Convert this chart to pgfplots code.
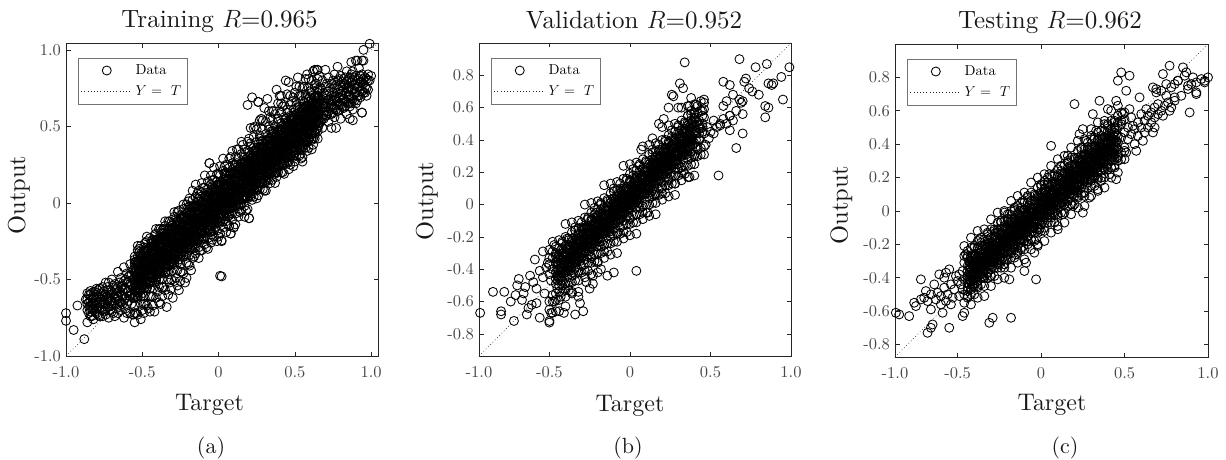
\documentclass[border=0pt]{standalone}
\usepackage{fix-cm}
\usepackage{fontspec}
\setmainfont{lmroman10-regular.otf}[ItalicFont=lmroman10-italic.otf, BoldFont=lmroman10-bold.otf]
\usepackage{pgfplots}
\usepackage{pgfplotstable}
\pgfplotsset{compat=1.18}

% ---------------- Training (a) ----------------
\pgfplotstableread{
x a b c d e f g h
-0.86 -0.63 -0.78 -0.70 -0.66 -0.59 nan nan nan
-0.84 -0.60 -0.74 -0.67 -0.71 -0.64 nan nan nan
-0.82 -0.58 -0.76 -0.66 -0.62 -0.70 nan nan nan
-0.80 -0.72 -0.60 -0.65 -0.56 -0.69 nan nan nan
-0.78 -0.56 -0.74 -0.69 -0.62 -0.65 nan nan nan
-0.76 -0.70 -0.61 -0.55 -0.66 -0.74 nan nan nan
-0.74 -0.52 -0.73 -0.66 -0.60 -0.69 nan nan nan
-0.72 -0.68 -0.57 -0.75 -0.63 -0.52 nan nan nan
-0.70 -0.50 -0.64 -0.71 -0.58 -0.67 nan nan nan
-0.68 -0.62 -0.74 -0.53 -0.57 -0.66 nan nan nan
-0.66 -0.45 -0.66 -0.72 -0.55 -0.61 nan nan nan
-0.64 -0.60 -0.49 -0.70 -0.55 -0.65 nan nan nan
-0.62 -0.75 -0.56 -0.42 -0.51 -0.63 nan nan nan
-0.60 -0.66 -0.46 -0.58 -0.72 -0.52 nan nan nan
-0.58 -0.40 -0.72 -0.53 -0.47 -0.61 nan nan nan
-0.56 -0.62 -0.50 -0.73 -0.44 -0.56 nan nan nan
-0.54 -0.50 -0.44 -0.55 -0.38 -0.61 -0.47 -0.72 nan
-0.52 -0.44 -0.50 -0.39 -0.56 -0.32 -0.48 nan -0.30
-0.50 -0.49 -0.44 -0.39 -0.59 -0.35 -0.52 -0.70 nan
-0.48 -0.43 -0.48 -0.39 -0.31 -0.53 -0.36 -0.66 -0.26
-0.46 -0.42 -0.36 -0.47 -0.30 -0.53 -0.39 -0.69 nan
-0.44 -0.37 -0.43 -0.32 -0.49 -0.25 -0.41 -0.61 nan
-0.42 -0.42 -0.37 -0.32 -0.52 -0.28 -0.45 -0.71 -0.21
-0.40 -0.36 -0.41 -0.32 -0.24 -0.46 -0.29 -0.58 nan
-0.38 -0.35 -0.29 -0.40 -0.23 -0.46 -0.32 -0.66 -0.17
-0.36 -0.29 -0.35 -0.24 -0.41 -0.17 -0.33 -0.55 nan
-0.34 -0.35 -0.30 -0.25 -0.45 -0.21 -0.38 -0.68 nan
-0.32 -0.29 -0.34 -0.25 -0.17 -0.39 -0.22 -0.52 -0.12
-0.30 -0.28 -0.22 -0.33 -0.16 -0.39 -0.25 -0.62 nan
-0.28 -0.22 -0.28 -0.17 -0.34 -0.10 -0.26 -0.49 nan
-0.26 -0.27 -0.22 -0.17 -0.37 -0.13 -0.30 -0.57 -0.05
-0.24 -0.22 -0.27 -0.18 -0.10 -0.32 -0.15 -0.45 nan
-0.22 -0.21 -0.15 -0.26 -0.09 -0.32 -0.18 -0.52 nan
-0.20 -0.15 -0.21 -0.10 -0.27 -0.03 -0.19 -0.40 0.01
-0.18 -0.20 -0.15 -0.10 -0.30 -0.06 -0.23 -0.44 nan
-0.16 -0.14 -0.19 -0.10 -0.02 -0.24 -0.07 -0.35 nan
-0.14 -0.14 -0.08 -0.19 -0.02 -0.25 -0.11 nan 0.06
-0.12 -0.08 -0.14 -0.03 -0.20 0.04 -0.12 -0.31 nan
-0.10 -0.13 -0.08 -0.03 -0.23 0.01 -0.16 nan 0.10
-0.08 -0.07 -0.12 -0.03 0.05 -0.17 0.00 -0.29 nan
-0.06 -0.06 0.00 -0.11 0.06 -0.17 -0.03 0.26 nan
-0.04 -0.01 -0.07 0.04 -0.13 0.11 -0.05 -0.24 0.15
-0.02 -0.06 -0.01 0.04 -0.16 0.08 -0.09 nan nan
0.00 0.00 -0.05 0.04 0.12 -0.10 0.07 -0.22 0.19
0.02 0.01 0.07 -0.04 0.13 -0.10 0.04 -0.48 -0.25
0.04 0.07 0.01 0.12 -0.05 0.19 0.03 nan 0.24
0.06 0.01 0.06 0.11 -0.09 0.15 -0.02 -0.14 nan
0.08 0.07 0.02 0.11 0.19 -0.03 0.14 -0.20 0.30
0.10 0.08 0.14 0.03 0.20 -0.03 0.11 -0.16 nan
0.12 0.14 0.08 0.19 0.02 0.26 0.10 nan 0.35
0.14 0.09 0.14 0.19 -0.01 0.23 0.06 -0.06 nan
0.16 0.14 0.09 0.18 0.26 0.04 0.21 nan 0.38
0.18 0.15 0.21 0.10 0.27 0.04 0.18 -0.05 nan
0.20 0.21 0.15 0.26 0.09 0.33 0.17 -0.10 0.42
0.22 0.16 0.21 0.26 0.06 0.30 0.13 0.69 0.02
0.24 0.22 0.17 0.26 0.34 0.12 0.29 0.50 nan
0.26 0.22 0.28 0.17 0.34 0.11 0.25 0.66 0.05
0.28 0.28 0.22 0.33 0.16 0.40 0.24 0.55 nan
0.30 0.23 0.28 0.33 0.13 0.37 0.20 0.62 0.08
0.32 0.29 0.24 0.33 0.41 0.19 0.36 0.68 nan
0.34 0.30 0.36 0.25 0.42 0.19 0.33 0.56 0.13
0.36 0.35 0.29 0.40 0.23 0.47 0.31 0.60 nan
0.38 0.30 0.35 0.40 0.20 0.44 0.27 0.74 0.17
0.40 0.36 0.31 0.40 0.48 0.26 0.43 0.70 nan
0.42 0.37 0.43 0.32 0.49 0.26 0.40 0.63 0.20
0.44 0.43 0.37 0.48 0.31 0.55 0.39 0.80 nan
0.46 0.37 0.42 0.47 0.27 0.51 0.34 0.79 0.22
0.48 0.43 0.38 0.47 0.55 0.33 0.50 0.66 nan
0.50 0.44 0.50 0.39 0.56 0.33 0.47 0.72 0.27
0.52 0.50 0.44 0.55 0.38 0.62 0.46 0.82 nan
0.54 0.45 0.50 0.55 0.35 0.59 0.42 0.70 0.29
0.56 0.50 0.45 0.54 0.62 0.40 0.57 0.76 nan
0.58 0.51 0.57 0.46 0.63 0.40 0.54 0.84 0.34
0.60 0.57 0.51 0.62 0.45 0.69 0.53 0.73 nan
0.62 0.52 0.57 0.62 0.42 0.66 0.49 0.86 0.38
0.64 0.58 0.53 0.62 0.70 0.48 0.65 0.78 nan
0.66 0.66 0.52 0.74 0.58 0.83 nan nan nan
0.68 0.55 0.70 0.62 0.80 0.49 nan nan nan
0.70 0.68 0.57 0.76 0.63 0.87 nan nan nan
0.72 0.60 0.73 0.53 0.82 0.67 nan nan nan
0.74 0.70 0.58 0.78 0.64 0.49 nan nan nan
0.76 0.62 0.75 0.84 0.69 0.56 nan nan nan
0.78 0.72 0.60 0.80 0.66 0.89 nan nan nan
0.80 0.64 0.77 0.55 0.71 0.83 nan nan nan
0.82 0.74 0.62 0.81 0.68 0.78 nan nan nan
0.84 0.66 0.79 0.58 0.75 0.86 nan nan nan
0.86 0.76 0.63 0.82 0.70 0.55 nan nan nan
0.88 0.68 0.80 0.74 0.86 0.61 nan nan nan
0.90 0.78 0.65 0.83 0.72 0.93 nan nan nan
0.92 0.70 0.81 0.76 0.88 nan nan nan nan
0.94 0.79 0.59 0.84 0.73 0.93 nan nan nan
0.96 0.82 0.72 0.76 nan nan nan nan nan
0.98 0.80 0.84 0.74 nan nan nan nan nan
}\tabA

\pgfplotstableread{
x a b c d e f g
-0.85 -0.65 -0.72 -0.60 -0.68 nan nan nan
-0.83 -0.62 -0.69 -0.74 -0.66 nan nan nan
-0.81 -0.64 -0.58 -0.71 -0.67 nan nan nan
-0.79 -0.61 -0.68 -0.57 -0.73 nan nan nan
-0.77 -0.63 -0.70 -0.59 -0.66 nan nan nan
-0.75 -0.58 -0.65 -0.71 -0.62 nan nan nan
-0.73 -0.61 -0.55 -0.68 -0.64 nan nan nan
-0.71 -0.57 -0.64 -0.70 -0.60 nan nan nan
-0.69 -0.60 -0.54 -0.66 -0.72 nan nan nan
-0.67 -0.56 -0.63 -0.69 -0.59 nan nan nan
-0.65 -0.58 -0.52 -0.64 -0.68 nan nan nan
-0.63 -0.54 -0.61 -0.66 -0.57 nan nan nan
-0.61 -0.56 -0.50 -0.62 -0.69 nan nan nan
-0.59 -0.52 -0.58 -0.64 -0.48 nan nan nan
-0.57 -0.54 -0.47 -0.60 -0.66 nan nan nan
-0.55 -0.49 -0.53 -0.45 -0.57 -0.41 -0.60 -0.37
-0.53 -0.50 -0.46 -0.53 -0.41 -0.56 -0.38 -0.61
-0.51 -0.46 -0.42 -0.50 -0.38 -0.57 -0.34 -0.48
-0.49 -0.43 -0.47 -0.39 -0.51 -0.35 -0.54 -0.31
-0.47 -0.44 -0.40 -0.47 -0.35 -0.50 -0.32 -0.55
-0.45 -0.41 -0.37 -0.45 -0.33 -0.52 -0.29 -0.43
-0.43 -0.38 -0.42 -0.34 -0.46 -0.30 -0.49 -0.26
-0.41 -0.39 -0.35 -0.42 -0.30 -0.45 -0.27 -0.50
-0.39 -0.35 -0.31 -0.39 -0.27 -0.46 -0.23 -0.37
-0.37 -0.32 -0.36 -0.28 -0.40 -0.24 -0.43 -0.20
-0.35 -0.34 -0.30 -0.37 -0.25 -0.40 -0.22 -0.45
-0.33 -0.30 -0.26 -0.34 -0.22 -0.41 -0.18 -0.32
-0.31 -0.27 -0.31 -0.23 -0.35 -0.19 -0.38 -0.15
-0.29 -0.28 -0.24 -0.31 -0.19 -0.34 -0.16 -0.39
-0.27 -0.24 -0.20 -0.28 -0.16 -0.35 -0.12 -0.26
-0.25 -0.22 -0.26 -0.18 -0.30 -0.14 -0.33 -0.10
-0.23 -0.23 -0.19 -0.26 -0.14 -0.29 -0.11 -0.34
-0.21 -0.19 -0.15 -0.23 -0.11 -0.30 -0.07 -0.21
-0.19 -0.16 -0.20 -0.12 -0.24 -0.08 -0.27 -0.04
-0.17 -0.17 -0.13 -0.20 -0.08 -0.23 -0.05 -0.28
-0.15 -0.14 -0.10 -0.18 -0.06 -0.25 -0.02 -0.16
-0.13 -0.11 -0.15 -0.07 -0.19 -0.03 -0.22 0.01
-0.11 -0.12 -0.08 -0.15 -0.03 -0.18 0.00 -0.23
-0.09 -0.08 -0.04 -0.12 0.00 -0.19 0.04 -0.10
-0.07 -0.05 -0.09 -0.01 -0.13 0.03 -0.16 0.07
-0.05 -0.07 -0.03 -0.10 0.02 -0.13 0.05 -0.18
-0.03 -0.03 0.01 -0.07 0.05 -0.14 0.09 -0.05
-0.01 0.00 -0.04 0.04 -0.08 0.08 -0.11 0.12
0.01 -0.01 0.03 -0.04 0.08 -0.07 0.11 -0.12
0.03 0.03 0.07 -0.01 0.11 -0.08 0.15 0.01
0.05 0.06 0.02 0.10 -0.02 0.14 -0.05 0.18
0.07 0.04 0.08 0.01 0.13 -0.02 0.16 -0.07
0.09 0.08 0.12 0.04 0.16 -0.03 0.20 0.06
0.11 0.11 0.07 0.15 0.03 0.19 0.00 0.23
0.13 0.10 0.14 0.07 0.19 0.04 0.22 -0.01
0.15 0.14 0.18 0.10 0.22 0.03 0.26 0.12
0.17 0.16 0.12 0.20 0.08 0.24 0.05 0.28
0.19 0.15 0.19 0.12 0.24 0.09 0.27 0.04
0.21 0.19 0.23 0.15 0.27 0.08 0.31 0.17
0.23 0.22 0.18 0.26 0.14 0.30 0.11 0.34
0.25 0.21 0.25 0.18 0.30 0.15 0.33 0.10
0.27 0.24 0.28 0.20 0.32 0.13 0.36 0.22
0.29 0.27 0.23 0.31 0.19 0.35 0.16 0.39
0.31 0.26 0.30 0.23 0.35 0.20 0.38 0.15
0.33 0.30 0.34 0.26 0.38 0.19 0.42 0.28
0.35 0.33 0.29 0.37 0.25 0.41 0.22 0.45
0.37 0.31 0.35 0.28 0.40 0.25 0.43 0.20
0.39 0.35 0.39 0.31 0.43 0.24 0.47 0.33
0.41 0.38 0.34 0.42 0.30 0.46 0.27 0.50
0.43 0.37 0.41 0.34 0.46 0.31 0.49 0.26
0.45 0.41 0.45 0.37 0.49 0.30 0.53 0.39
0.47 0.43 0.39 0.47 0.35 0.51 0.32 0.55
0.49 0.42 0.46 0.39 0.51 0.36 0.54 0.31
0.51 0.46 0.50 0.42 0.54 0.35 0.58 0.44
0.53 0.49 0.45 0.53 0.41 0.57 0.38 0.61
0.55 0.48 0.52 0.45 0.57 0.42 0.60 0.37
0.57 0.51 0.55 0.47 0.59 0.40 0.63 0.49
0.59 0.54 0.50 0.58 0.46 0.62 0.43 0.66
0.61 0.53 0.57 0.50 0.62 0.47 0.65 0.42
0.63 0.57 0.61 0.53 0.65 0.46 0.69 0.55
0.65 0.60 0.56 0.64 0.52 0.68 0.49 0.72
0.67 0.62 0.56 0.68 0.53 0.75 nan nan
0.69 0.59 0.65 0.55 0.72 0.63 nan nan
0.71 0.65 0.60 0.70 0.57 0.78 nan nan
0.73 0.62 0.68 0.58 0.75 0.66 nan nan
0.75 0.67 0.62 0.72 0.59 0.80 nan nan
0.77 0.64 0.70 0.61 0.77 0.68 nan nan
0.79 0.69 0.64 0.74 0.61 0.81 nan nan
0.81 0.67 0.73 0.63 0.79 0.70 nan nan
0.83 0.72 0.66 0.77 0.63 0.82 nan nan
0.85 0.69 0.75 0.65 0.80 0.73 nan nan
0.87 0.74 0.68 0.79 0.65 0.84 nan nan
0.89 0.71 0.77 0.67 0.82 0.75 nan nan
0.91 0.76 0.70 0.80 0.67 nan nan nan
0.93 0.73 0.79 0.69 0.83 nan nan nan
0.95 0.78 0.72 0.81 nan nan nan nan
0.97 0.75 0.81 0.70 nan nan nan nan
}\tabAA

\pgfplotstableread{
x a b c d e f g
-0.545 -0.485 -0.505 -0.455 -0.535 -0.425 -0.575 -0.385
-0.525 -0.477 -0.457 -0.507 -0.427 -0.537 -0.387 -0.587
-0.505 -0.429 -0.479 -0.399 -0.509 -0.359 -0.549 -0.454
-0.485 -0.446 -0.426 -0.496 -0.376 -0.556 -0.316 -0.406
-0.465 -0.413 -0.433 -0.383 -0.463 -0.353 -0.503 -0.313
-0.445 -0.405 -0.385 -0.435 -0.355 -0.465 -0.315 -0.515
-0.425 -0.357 -0.407 -0.327 -0.437 -0.287 -0.477 -0.382
-0.405 -0.374 -0.354 -0.424 -0.304 -0.484 -0.244 -0.334
-0.385 -0.341 -0.361 -0.311 -0.391 -0.281 -0.431 -0.241
-0.365 -0.333 -0.313 -0.363 -0.283 -0.393 -0.243 -0.443
-0.345 -0.285 -0.335 -0.255 -0.365 -0.215 -0.405 -0.310
-0.325 -0.302 -0.282 -0.352 -0.232 -0.412 -0.172 -0.262
-0.305 -0.269 -0.289 -0.239 -0.319 -0.209 -0.359 -0.169
-0.285 -0.261 -0.241 -0.291 -0.211 -0.321 -0.171 -0.371
-0.265 -0.213 -0.263 -0.183 -0.293 -0.143 -0.333 -0.238
-0.245 -0.230 -0.210 -0.280 -0.160 -0.340 -0.100 -0.190
-0.225 -0.197 -0.217 -0.167 -0.247 -0.137 -0.287 -0.097
-0.205 -0.189 -0.169 -0.219 -0.139 -0.249 -0.099 -0.299
-0.185 -0.141 -0.191 -0.111 -0.221 -0.071 -0.261 -0.166
-0.165 -0.158 -0.138 -0.208 -0.088 -0.268 -0.028 -0.118
-0.145 -0.125 -0.145 -0.095 -0.175 -0.065 -0.215 -0.025
-0.125 -0.117 -0.097 -0.147 -0.067 -0.177 -0.027 -0.227
-0.105 -0.069 -0.119 -0.039 -0.149 0.001 -0.189 -0.094
-0.085 -0.086 -0.066 -0.136 -0.016 -0.196 0.044 -0.046
-0.065 -0.053 -0.073 -0.023 -0.103 0.007 -0.143 0.047
-0.045 -0.045 -0.025 -0.075 0.005 -0.105 0.045 -0.155
-0.025 0.003 -0.047 0.033 -0.077 0.073 -0.117 -0.022
-0.005 -0.014 0.006 -0.064 0.056 -0.124 0.116 0.026
0.015 0.019 -0.001 0.049 -0.031 0.079 -0.071 0.119
0.035 0.027 0.047 -0.003 0.077 -0.033 0.117 -0.083
0.055 0.075 0.025 0.105 -0.005 0.145 -0.045 0.050
0.075 0.058 0.078 0.008 0.128 -0.052 0.188 0.098
0.095 0.091 0.071 0.121 0.041 0.151 0.001 0.191
0.115 0.099 0.119 0.069 0.149 0.039 0.189 -0.011
0.135 0.147 0.097 0.177 0.067 0.217 0.027 0.122
0.155 0.130 0.150 0.080 0.200 0.020 0.260 0.170
0.175 0.163 0.143 0.193 0.113 0.223 0.073 0.263
0.195 0.171 0.191 0.141 0.221 0.111 0.261 0.061
0.215 0.219 0.169 0.249 0.139 0.289 0.099 0.194
0.235 0.202 0.222 0.152 0.272 0.092 0.332 0.242
0.255 0.235 0.215 0.265 0.185 0.295 0.145 0.335
0.275 0.243 0.263 0.213 0.293 0.183 0.333 0.133
0.295 0.291 0.241 0.321 0.211 0.361 0.171 0.266
0.315 0.274 0.294 0.224 0.344 0.164 0.404 0.314
0.335 0.307 0.287 0.337 0.257 0.367 0.217 0.407
0.355 0.315 0.335 0.285 0.365 0.255 0.405 0.205
0.375 0.363 0.313 0.393 0.283 0.433 0.243 0.338
0.395 0.346 0.366 0.296 0.416 0.236 0.476 0.386
0.415 0.379 0.359 0.409 0.329 0.439 0.289 0.479
0.435 0.387 0.407 0.357 0.437 0.327 0.477 0.277
0.455 0.435 0.385 0.465 0.355 0.505 0.315 0.410
0.475 0.418 0.438 0.368 0.488 0.308 0.548 0.458
0.495 0.451 0.431 0.481 0.401 0.511 0.361 0.551
0.515 0.459 0.479 0.429 0.509 0.399 0.549 0.349
0.535 0.507 0.457 0.537 0.427 0.577 0.387 0.482
0.555 0.490 0.510 0.440 0.560 0.380 0.620 0.530
0.575 0.523 0.503 0.553 0.473 0.583 0.433 0.623
0.595 0.531 0.551 0.501 0.581 0.471 0.621 0.421
0.615 0.579 0.529 0.609 0.499 0.649 0.459 0.554
0.635 0.562 0.582 0.512 0.632 0.452 0.692 0.602
0.655 0.595 0.575 0.625 0.545 0.655 0.505 0.695
}\tabAAA

\pgfplotstableread{
x a b c d e f
-0.55 -0.39 -0.62 -0.35 -0.67 -0.72 -0.78
-0.53 -0.58 -0.35 -0.62 -0.31 -0.73 -0.28
-0.51 -0.34 -0.57 -0.28 -0.61 -0.76 -0.66
-0.49 -0.33 -0.56 -0.29 -0.61 -0.66 -0.72
-0.47 -0.52 -0.29 -0.56 -0.25 -0.67 -0.22
-0.45 -0.29 -0.52 -0.23 -0.56 -0.71 -0.61
-0.43 -0.28 -0.51 -0.24 -0.56 -0.61 -0.67
-0.41 -0.47 -0.24 -0.51 -0.20 -0.62 -0.17
-0.39 -0.23 -0.46 -0.17 -0.50 -0.65 -0.55
-0.37 -0.22 -0.45 -0.18 -0.50 -0.55 -0.61
-0.35 -0.42 -0.19 -0.46 -0.15 -0.57 -0.12
-0.33 -0.18 -0.41 -0.12 -0.45 -0.60 -0.50
-0.31 -0.17 -0.40 -0.13 -0.45 -0.50 -0.56
-0.29 -0.36 -0.13 -0.40 -0.09 -0.51 -0.06
-0.27 -0.12 -0.35 -0.06 -0.39 -0.54 -0.44
-0.25 -0.12 -0.35 -0.08 -0.40 -0.45 -0.51
-0.23 -0.31 -0.08 -0.35 -0.04 -0.46 -0.01
-0.21 -0.07 -0.30 -0.01 -0.34 -0.49 -0.39
-0.19 -0.06 -0.29 -0.02 -0.34 0.03 -0.41
-0.17 -0.25 -0.02 -0.29 0.02 -0.36 0.08
-0.15 -0.02 -0.25 0.04 -0.29 0.12 -0.33
-0.13 -0.01 -0.24 0.03 -0.29 0.08 -0.36
-0.11 -0.20 0.03 -0.24 0.07 -0.31 0.13
-0.09 0.04 -0.19 0.10 -0.23 0.18 -0.27
-0.07 0.05 -0.18 0.09 -0.23 0.14 -0.30
-0.05 -0.15 0.08 -0.19 0.12 -0.26 0.18
-0.03 0.09 -0.14 0.15 -0.18 0.23 -0.22
-0.01 0.10 -0.13 0.14 -0.18 0.19 -0.25
0.01 -0.09 0.14 -0.13 0.18 -0.20 0.24
0.03 0.15 -0.08 0.21 -0.12 0.29 -0.16
0.05 0.16 -0.07 0.20 -0.12 0.25 -0.19
0.07 -0.04 0.19 -0.08 0.23 -0.15 0.29
0.09 0.20 -0.03 0.26 -0.07 0.34 -0.11
0.11 0.21 -0.02 0.25 -0.07 0.30 -0.14
0.13 0.02 0.25 -0.02 0.29 -0.09 0.35
0.15 0.26 0.03 0.32 -0.01 0.40 -0.05
0.17 0.26 0.03 0.30 -0.02 0.35 -0.09
0.19 0.07 0.30 0.03 0.34 -0.04 0.40
0.21 0.31 0.08 0.37 0.04 0.49 0.39
0.23 0.32 0.09 0.36 0.04 0.43 0.49
0.25 0.13 0.36 0.09 0.40 0.48 0.03
0.27 0.36 0.13 0.42 0.09 0.54 0.44
0.29 0.37 0.14 0.41 0.09 0.48 0.54
0.31 0.18 0.41 0.14 0.45 0.53 0.08
0.33 0.42 0.19 0.48 0.15 0.60 0.50
0.35 0.43 0.20 0.47 0.15 0.54 0.60
0.37 0.23 0.46 0.19 0.50 0.58 0.13
0.39 0.47 0.24 0.53 0.20 0.65 0.55
0.41 0.48 0.25 0.52 0.20 0.59 0.65
0.43 0.29 0.52 0.25 0.56 0.64 0.19
0.45 0.53 0.30 0.59 0.26 0.71 0.61
0.47 0.53 0.30 0.57 0.25 0.64 0.70
0.49 0.34 0.57 0.30 0.61 0.69 0.24
0.51 0.58 0.35 0.64 0.31 0.76 0.66
0.53 0.59 0.36 0.63 0.31 0.70 0.76
0.55 0.40 0.63 0.36 0.67 0.75 0.30
0.57 0.63 0.40 0.69 0.36 0.81 0.71
0.59 0.64 0.41 0.68 0.36 0.75 0.81
0.61 0.45 0.68 0.41 0.72 0.80 0.35
0.63 0.69 0.46 0.75 0.42 0.87 0.77
0.65 0.70 0.47 0.74 0.42 0.81 0.87
}\tabAH

% ---------------- Validation (b) ----------------
\pgfplotstableread{
x a b c d e f g
-0.46 -0.42 -0.36 -0.49 -0.30 -0.46 nan nan
-0.44 -0.37 -0.45 -0.31 -0.50 -0.41 nan nan
-0.42 -0.41 -0.34 -0.47 -0.30 -0.24 nan nan
-0.40 -0.35 -0.42 -0.31 -0.49 -0.26 nan nan
-0.38 -0.34 -0.28 -0.41 -0.22 -0.38 nan nan
-0.36 -0.29 -0.37 -0.23 -0.42 -0.33 -0.34 -0.29
-0.34 -0.33 -0.26 -0.39 -0.22 -0.16 -0.32 -0.27
-0.32 -0.27 -0.34 -0.23 -0.41 -0.18 -0.30 -0.25
-0.30 -0.26 -0.20 -0.33 -0.14 -0.30 -0.28 -0.23
-0.28 -0.21 -0.29 -0.15 -0.34 -0.25 -0.26 -0.21
-0.26 -0.25 -0.18 -0.31 -0.14 -0.08 -0.24 -0.19
-0.24 -0.19 -0.26 -0.15 -0.33 -0.10 -0.22 -0.17
-0.22 -0.18 -0.12 -0.25 -0.06 -0.22 -0.20 -0.15
-0.20 -0.13 -0.21 -0.07 -0.26 -0.17 -0.18 -0.13
-0.18 -0.17 -0.10 -0.23 -0.06 0.00 -0.16 -0.11
-0.16 -0.11 -0.18 -0.07 -0.25 -0.02 -0.14 -0.09
-0.14 -0.10 -0.04 -0.17 0.02 -0.14 -0.12 -0.07
-0.12 -0.05 -0.13 0.01 -0.18 -0.09 -0.10 -0.05
-0.10 -0.09 -0.02 -0.15 0.02 0.08 -0.08 -0.03
-0.08 -0.03 -0.10 0.01 -0.17 0.06 -0.06 -0.01
-0.06 -0.02 0.04 -0.09 0.10 -0.06 -0.04 0.01
-0.04 0.03 -0.05 0.09 -0.10 -0.01 -0.02 0.03
-0.02 -0.01 0.06 -0.07 0.10 0.16 0.00 0.05
0.00 0.05 -0.02 0.09 -0.09 0.14 0.02 0.07
0.02 0.06 0.12 -0.01 0.18 0.02 0.04 0.09
0.04 0.11 0.03 0.17 -0.02 0.07 0.06 0.11
0.06 0.07 0.14 0.01 0.18 0.24 0.08 0.13
0.08 0.13 0.06 0.17 -0.01 0.22 0.10 0.15
0.10 0.14 0.20 0.07 0.26 0.10 0.12 0.17
0.12 0.19 0.11 0.25 0.06 0.15 0.14 0.19
0.14 0.15 0.22 0.09 0.26 0.32 0.16 0.21
0.16 0.21 0.14 0.25 0.07 0.30 0.18 0.23
0.18 0.22 0.28 0.15 0.34 0.18 0.20 0.25
0.20 0.27 0.19 0.33 0.14 0.23 0.22 0.27
0.22 0.23 0.30 0.17 0.34 0.40 0.24 0.29
0.24 0.29 0.22 0.33 0.15 0.38 0.26 0.31
0.26 0.30 0.36 0.23 0.42 0.26 0.28 0.33
0.28 0.35 0.27 0.41 0.22 0.31 0.30 0.35
0.30 0.31 0.38 0.25 0.42 0.48 0.32 0.37
0.32 0.37 0.30 0.41 0.23 0.46 0.34 0.39
0.34 0.38 0.44 0.31 0.50 0.34 0.36 0.41
0.36 0.43 0.35 0.49 0.30 0.39 nan nan
0.38 0.39 0.46 0.33 0.50 0.56 nan nan
0.40 0.45 0.38 0.49 0.31 0.54 nan nan
}\tabB

\pgfplotstableread{
x a b c d e
-0.45 -0.40 -0.44 -0.36 -0.47 -0.33
-0.43 -0.41 -0.36 -0.44 -0.33 -0.47
-0.41 -0.37 -0.33 -0.41 -0.30 -0.38
-0.39 -0.34 -0.38 -0.30 -0.41 -0.27
-0.37 -0.35 -0.30 -0.38 -0.27 -0.41
-0.35 -0.31 -0.27 -0.35 -0.24 -0.32
-0.33 -0.28 -0.32 -0.24 -0.35 -0.21
-0.31 -0.29 -0.24 -0.32 -0.21 -0.35
-0.29 -0.25 -0.21 -0.29 -0.18 -0.26
-0.27 -0.22 -0.26 -0.18 -0.29 -0.15
-0.25 -0.23 -0.18 -0.26 -0.15 -0.29
-0.23 -0.19 -0.15 -0.23 -0.12 -0.20
-0.21 -0.16 -0.20 -0.12 -0.23 -0.09
-0.19 -0.17 -0.12 -0.20 -0.09 -0.23
-0.17 -0.13 -0.09 -0.17 -0.06 -0.14
-0.15 -0.10 -0.14 -0.06 -0.17 -0.03
-0.13 -0.11 -0.06 -0.14 -0.03 -0.17
-0.11 -0.07 -0.03 -0.11 0.00 -0.08
-0.09 -0.04 -0.08 0.00 -0.11 0.03
-0.07 -0.05 0.00 -0.08 0.03 -0.11
-0.05 -0.01 0.03 -0.05 0.06 -0.02
-0.03 0.02 -0.02 0.06 -0.05 0.09
-0.01 0.01 0.06 -0.02 0.09 -0.05
0.01 0.05 0.09 0.01 0.12 0.04
0.03 0.08 0.04 0.12 0.01 0.15
0.05 0.07 0.12 0.04 0.15 0.01
0.07 0.11 0.15 0.07 0.18 0.10
0.09 0.14 0.10 0.18 0.07 0.21
0.11 0.13 0.18 0.10 0.21 0.07
0.13 0.17 0.21 0.13 0.24 0.16
0.15 0.20 0.16 0.24 0.13 0.27
0.17 0.19 0.24 0.16 0.27 0.13
0.19 0.23 0.27 0.19 0.30 0.22
0.21 0.26 0.22 0.30 0.19 0.33
0.23 0.25 0.30 0.22 0.33 0.19
0.25 0.29 0.33 0.25 0.36 0.28
0.27 0.32 0.28 0.36 0.25 0.39
0.29 0.31 0.36 0.28 0.39 0.25
0.31 0.35 0.39 0.31 0.42 0.34
0.33 0.38 0.34 0.42 0.31 0.45
0.35 0.37 0.42 0.34 0.45 0.31
0.37 0.41 0.45 0.37 0.48 0.40
0.39 0.44 0.40 0.48 0.37 0.51
0.41 0.46 0.40 0.51 0.36 0.44
0.43 0.47 0.52 0.41 0.49 0.44
0.45 0.50 0.45 0.55 0.48 nan
}\tabBB

\pgfplotstableread{
x a b c d e
-0.445 -0.400 -0.430 -0.370 -0.450 -0.340
-0.425 -0.390 -0.360 -0.420 -0.340 -0.450
-0.405 -0.350 -0.380 -0.310 -0.420 -0.365
-0.385 -0.340 -0.370 -0.310 -0.390 -0.280
-0.365 -0.330 -0.300 -0.360 -0.280 -0.390
-0.345 -0.290 -0.320 -0.250 -0.360 -0.305
-0.325 -0.280 -0.310 -0.250 -0.330 -0.220
-0.305 -0.270 -0.240 -0.300 -0.220 -0.330
-0.285 -0.230 -0.260 -0.190 -0.300 -0.245
-0.265 -0.220 -0.250 -0.190 -0.270 -0.160
-0.245 -0.210 -0.180 -0.240 -0.160 -0.270
-0.225 -0.170 -0.200 -0.130 -0.240 -0.185
-0.205 -0.160 -0.190 -0.130 -0.210 -0.100
-0.185 -0.150 -0.120 -0.180 -0.100 -0.210
-0.165 -0.110 -0.140 -0.070 -0.180 -0.125
-0.145 -0.100 -0.130 -0.070 -0.150 -0.040
-0.125 -0.090 -0.060 -0.120 -0.040 -0.150
-0.105 -0.050 -0.080 -0.010 -0.120 -0.065
-0.085 -0.040 -0.070 -0.010 -0.090 0.020
-0.065 -0.030 0.000 -0.060 0.020 -0.090
-0.045 0.010 -0.020 0.050 -0.060 -0.005
-0.025 0.020 -0.010 0.050 -0.030 0.080
-0.005 0.030 0.060 0.000 0.080 -0.030
0.015 0.070 0.040 0.110 0.000 0.055
0.035 0.080 0.050 0.110 0.030 0.140
0.055 0.090 0.120 0.060 0.140 0.030
0.075 0.130 0.100 0.170 0.060 0.115
0.095 0.140 0.110 0.170 0.090 0.200
0.115 0.150 0.180 0.120 0.200 0.090
0.135 0.190 0.160 0.230 0.120 0.175
0.155 0.200 0.170 0.230 0.150 0.260
0.175 0.210 0.240 0.180 0.260 0.150
0.195 0.250 0.220 0.290 0.180 0.235
0.215 0.260 0.230 0.290 0.210 0.320
0.235 0.270 0.300 0.240 0.320 0.210
0.255 0.310 0.280 0.350 0.240 0.295
0.275 0.320 0.290 0.350 0.270 0.380
0.295 0.330 0.360 0.300 0.380 0.270
0.315 0.370 0.340 0.410 0.300 0.355
0.335 0.380 0.350 0.410 0.330 0.440
0.355 0.390 0.420 0.360 0.440 0.330
0.375 0.430 0.400 0.470 0.360 0.415
}\tabBBB

\pgfplotstableread{
x a b c d e f
-0.50 -0.37 -0.60 -0.33 -0.65 -0.28 -0.72
-0.48 -0.56 -0.33 -0.60 -0.29 -0.67 -0.23
-0.46 -0.32 -0.55 -0.26 -0.59 nan nan
-0.44 -0.31 -0.54 -0.27 -0.59 -0.22 -0.66
-0.42 -0.50 -0.27 -0.54 -0.23 nan nan
-0.40 -0.26 -0.49 -0.20 -0.53 -0.12 -0.57
-0.38 -0.25 -0.48 -0.21 -0.53 nan nan
-0.36 -0.44 -0.21 -0.48 -0.17 -0.55 -0.11
-0.34 -0.20 -0.43 -0.14 -0.47 nan nan
-0.32 -0.19 -0.42 -0.15 -0.47 -0.10 -0.54
-0.30 -0.38 -0.15 -0.42 -0.11 nan nan
-0.28 -0.14 -0.37 -0.08 -0.41 0.00 -0.45
-0.26 -0.13 -0.36 -0.09 -0.41 nan nan
-0.24 -0.32 -0.09 -0.36 -0.05 -0.43 0.01
-0.22 -0.08 -0.31 -0.02 -0.35 nan nan
-0.20 -0.07 -0.30 -0.03 -0.35 0.02 -0.42
-0.18 -0.26 -0.03 -0.30 0.01 nan nan
-0.16 -0.02 -0.25 0.04 -0.29 0.12 -0.33
-0.14 -0.01 -0.24 0.03 -0.29 nan nan
-0.12 -0.20 0.03 -0.24 0.07 -0.31 0.13
-0.10 0.04 -0.19 0.10 -0.23 nan nan
-0.08 0.05 -0.18 0.09 -0.23 0.14 -0.30
-0.06 -0.14 0.09 -0.18 0.13 nan nan
-0.04 0.10 -0.13 0.16 -0.17 0.24 -0.21
-0.02 0.11 -0.12 0.15 -0.17 nan nan
0.00 -0.08 0.15 -0.12 0.19 -0.19 0.25
0.02 0.16 -0.07 0.22 -0.11 nan nan
0.04 0.17 -0.06 0.21 -0.11 0.26 -0.18
0.06 -0.02 0.21 -0.06 0.25 nan nan
0.08 0.22 -0.01 0.28 -0.05 0.36 -0.09
0.10 0.23 0.00 0.27 -0.05 nan nan
0.12 0.04 0.27 0.00 0.31 -0.07 0.37
0.14 0.28 0.05 0.34 0.01 nan nan
0.16 0.29 0.06 0.33 0.01 0.38 -0.06
0.18 0.10 0.33 0.06 0.37 nan nan
0.20 0.34 0.11 0.40 0.07 0.48 0.03
0.22 0.35 0.12 0.39 0.07 nan nan
0.24 0.16 0.39 0.12 0.43 0.05 0.49
0.26 0.40 0.17 0.46 0.13 nan nan
0.28 0.41 0.18 0.45 0.13 0.50 0.06
0.30 0.22 0.45 0.18 0.49 nan nan
0.32 0.46 0.23 0.52 0.19 0.60 0.15
0.34 0.47 0.24 0.51 0.19 nan nan
0.36 0.28 0.51 0.24 0.55 0.17 0.61
0.38 0.52 0.29 0.58 0.25 nan nan
0.40 0.53 0.30 0.57 0.25 0.62 0.18
0.42 0.34 0.57 0.30 0.61 nan nan
0.44 0.58 0.35 0.64 0.31 nan nan
0.46 0.59 0.36 0.63 0.31 nan nan
}\tabBH

% ---------------- Testing (c) ----------------
\pgfplotstableread{
x a b c d e f g
-0.44 -0.39 -0.33 -0.46 -0.27 -0.43 -0.41 -0.36
-0.42 -0.34 -0.42 -0.28 -0.47 -0.38 -0.39 -0.34
-0.40 -0.38 -0.31 -0.44 -0.27 -0.21 -0.37 -0.32
-0.38 -0.32 -0.39 -0.28 -0.46 -0.23 -0.35 -0.30
-0.36 -0.31 -0.25 -0.38 -0.19 -0.35 -0.33 -0.28
-0.34 -0.27 -0.35 -0.21 -0.40 -0.31 -0.32 -0.27
-0.32 -0.31 -0.24 -0.37 -0.20 -0.14 -0.30 -0.25
-0.30 -0.25 -0.32 -0.21 -0.39 -0.16 -0.28 -0.23
-0.28 -0.24 -0.18 -0.31 -0.12 -0.28 -0.26 -0.21
-0.26 -0.19 -0.27 -0.13 -0.32 -0.23 -0.24 -0.19
-0.24 -0.24 -0.17 -0.30 -0.13 -0.07 -0.23 -0.18
-0.22 -0.18 -0.25 -0.14 -0.32 -0.09 -0.21 -0.16
-0.20 -0.17 -0.11 -0.24 -0.05 -0.21 -0.19 -0.14
-0.18 -0.12 -0.20 -0.06 -0.25 -0.16 -0.17 -0.12
-0.16 -0.16 -0.09 -0.22 -0.05 0.01 -0.15 -0.10
-0.14 -0.11 -0.18 -0.07 -0.25 -0.02 -0.14 -0.09
-0.12 -0.10 -0.04 -0.17 0.02 -0.14 -0.12 -0.07
-0.10 -0.05 -0.13 0.01 -0.18 -0.09 -0.10 -0.05
-0.08 -0.09 -0.02 -0.15 0.02 0.08 -0.08 -0.03
-0.06 -0.03 -0.10 0.01 -0.17 0.06 -0.06 -0.01
-0.04 -0.03 0.03 -0.10 0.09 -0.07 -0.05 0.00
-0.02 0.02 -0.06 0.08 -0.11 -0.02 -0.03 0.02
0.00 -0.02 0.05 -0.08 0.09 0.15 -0.01 0.04
0.02 0.04 -0.03 0.08 -0.10 0.13 0.01 0.06
0.04 0.05 0.11 -0.02 0.17 0.01 0.03 0.08
0.06 0.09 0.01 0.15 -0.04 0.05 0.04 0.09
0.08 0.05 0.12 -0.01 0.16 0.22 0.06 0.11
0.10 0.11 0.04 0.15 -0.03 0.20 0.08 0.13
0.12 0.12 0.18 0.05 0.24 0.08 0.10 0.15
0.14 0.17 0.09 0.23 0.04 0.13 0.12 0.17
0.16 0.12 0.19 0.06 0.23 0.29 0.13 0.18
0.18 0.18 0.11 0.22 0.04 0.27 0.15 0.20
0.20 0.19 0.25 0.12 0.31 0.15 0.17 0.22
0.22 0.24 0.16 0.30 0.11 0.20 0.19 0.24
0.24 0.20 0.27 0.14 0.31 0.37 0.21 0.26
0.26 0.25 0.18 0.29 0.11 0.34 0.22 0.27
0.28 0.26 0.32 0.19 0.38 0.22 0.24 0.29
0.30 0.31 0.23 0.37 0.18 0.27 0.26 0.31
0.32 0.27 0.34 0.21 0.38 0.44 0.28 0.33
0.34 0.33 0.26 0.37 0.19 0.42 0.30 0.35
0.36 0.33 0.39 0.26 0.45 0.29 0.31 0.36
0.38 0.38 0.30 0.44 0.25 0.34 0.33 0.38
0.40 0.34 0.41 0.28 0.45 0.51 0.35 0.40
0.42 0.40 0.33 0.44 0.26 0.49 0.37 0.42
0.44 0.41 0.47 0.34 0.53 0.37 nan nan
0.46 0.45 0.37 0.51 0.32 0.41 nan nan
}\tabC

\pgfplotstableread{
x a b c d e
-0.43 -0.37 -0.41 -0.33 -0.44 -0.30
-0.41 -0.38 -0.33 -0.41 -0.30 -0.44
-0.39 -0.34 -0.30 -0.38 -0.27 -0.35
-0.37 -0.31 -0.35 -0.27 -0.38 -0.24
-0.35 -0.33 -0.28 -0.36 -0.25 -0.39
-0.33 -0.29 -0.25 -0.33 -0.22 -0.30
-0.31 -0.26 -0.30 -0.22 -0.33 -0.19
-0.29 -0.27 -0.22 -0.30 -0.19 -0.33
-0.27 -0.23 -0.19 -0.27 -0.16 -0.24
-0.25 -0.21 -0.25 -0.17 -0.28 -0.14
-0.23 -0.22 -0.17 -0.25 -0.14 -0.28
-0.21 -0.18 -0.14 -0.22 -0.11 -0.19
-0.19 -0.15 -0.19 -0.11 -0.22 -0.08
-0.17 -0.16 -0.11 -0.19 -0.08 -0.22
-0.15 -0.13 -0.09 -0.17 -0.06 -0.14
-0.13 -0.10 -0.14 -0.06 -0.17 -0.03
-0.11 -0.11 -0.06 -0.14 -0.03 -0.17
-0.09 -0.07 -0.03 -0.11 0.00 -0.08
-0.07 -0.04 -0.08 0.00 -0.11 0.03
-0.05 -0.06 -0.01 -0.09 0.02 -0.12
-0.03 -0.02 0.02 -0.06 0.05 -0.03
-0.01 0.01 -0.03 0.05 -0.06 0.08
0.01 0.00 0.05 -0.03 0.08 -0.06
0.03 0.04 0.08 0.00 0.11 0.03
0.05 0.07 0.03 0.11 0.00 0.14
0.07 0.05 0.10 0.02 0.13 -0.01
0.09 0.09 0.13 0.05 0.16 0.08
0.11 0.12 0.08 0.16 0.05 0.19
0.13 0.11 0.16 0.08 0.19 0.05
0.15 0.15 0.19 0.11 0.22 0.14
0.17 0.17 0.13 0.21 0.10 0.24
0.19 0.16 0.21 0.13 0.24 0.10
0.21 0.20 0.24 0.16 0.27 0.19
0.23 0.23 0.19 0.27 0.16 0.30
0.25 0.22 0.27 0.19 0.30 0.16
0.27 0.25 0.29 0.21 0.32 0.24
0.29 0.28 0.24 0.32 0.21 0.35
0.31 0.27 0.32 0.24 0.35 0.21
0.33 0.31 0.35 0.27 0.38 0.30
0.35 0.34 0.30 0.38 0.27 0.41
0.37 0.32 0.37 0.29 0.40 0.26
0.39 0.36 0.40 0.32 0.43 0.35
0.41 0.39 0.35 0.43 0.32 0.46
0.43 0.38 0.43 0.35 0.46 0.32
0.45 0.42 0.46 0.38 0.49 0.41
}\tabCC

\pgfplotstableread{
x a b c d e
-0.425 -0.367 -0.397 -0.337 -0.417 -0.307
-0.405 -0.359 -0.329 -0.389 -0.309 -0.419
-0.385 -0.321 -0.351 -0.281 -0.391 -0.336
-0.365 -0.313 -0.343 -0.283 -0.363 -0.253
-0.345 -0.305 -0.275 -0.335 -0.255 -0.365
-0.325 -0.267 -0.297 -0.227 -0.337 -0.282
-0.305 -0.259 -0.289 -0.229 -0.309 -0.199
-0.285 -0.251 -0.221 -0.281 -0.201 -0.311
-0.265 -0.213 -0.243 -0.173 -0.283 -0.228
-0.245 -0.205 -0.235 -0.175 -0.255 -0.145
-0.225 -0.197 -0.167 -0.227 -0.147 -0.257
-0.205 -0.159 -0.189 -0.119 -0.229 -0.174
-0.185 -0.151 -0.181 -0.121 -0.201 -0.091
-0.165 -0.143 -0.113 -0.173 -0.093 -0.203
-0.145 -0.105 -0.135 -0.065 -0.175 -0.120
-0.125 -0.097 -0.127 -0.067 -0.147 -0.037
-0.105 -0.089 -0.059 -0.119 -0.039 -0.149
-0.085 -0.051 -0.081 -0.011 -0.121 -0.066
-0.065 -0.043 -0.073 -0.013 -0.093 0.017
-0.045 -0.035 -0.005 -0.065 0.015 -0.095
-0.025 0.003 -0.027 0.043 -0.067 -0.012
-0.005 0.011 -0.019 0.041 -0.039 0.071
0.015 0.019 0.049 -0.011 0.069 -0.041
0.035 0.057 0.027 0.097 -0.013 0.042
0.055 0.065 0.035 0.095 0.015 0.125
0.075 0.073 0.103 0.043 0.123 0.013
0.095 0.111 0.081 0.151 0.041 0.096
0.115 0.119 0.089 0.149 0.069 0.179
0.135 0.127 0.157 0.097 0.177 0.067
0.155 0.165 0.135 0.205 0.095 0.150
0.175 0.173 0.143 0.203 0.123 0.233
0.195 0.181 0.211 0.151 0.231 0.121
0.215 0.219 0.189 0.259 0.149 0.204
0.235 0.227 0.197 0.257 0.177 0.287
0.255 0.235 0.265 0.205 0.285 0.175
0.275 0.273 0.243 0.313 0.203 0.258
0.295 0.281 0.251 0.311 0.231 0.341
0.315 0.289 0.319 0.259 0.339 0.229
0.335 0.327 0.297 0.367 0.257 0.312
0.355 0.335 0.305 0.365 0.285 0.395
0.375 0.343 0.373 0.313 0.393 0.283
0.395 0.381 0.351 0.421 0.311 0.366
0.415 0.389 0.359 0.419 0.339 0.449
0.435 0.397 0.427 0.367 0.447 0.337
}\tabCCC

\pgfplotstableread{
x a b c d e f
-0.46 -0.31 -0.50 -0.27 -0.55 -0.21 -0.61
-0.44 -0.48 -0.28 -0.51 -0.24 nan nan
-0.42 -0.27 -0.46 -0.22 -0.50 -0.16 -0.56
-0.40 -0.26 -0.45 -0.22 -0.50 nan nan
-0.38 -0.42 -0.22 -0.45 -0.18 -0.52 -0.12
-0.36 -0.21 -0.40 -0.16 -0.44 nan nan
-0.34 -0.21 -0.40 -0.17 -0.45 -0.11 -0.51
-0.32 -0.37 -0.17 -0.40 -0.13 nan nan
-0.30 -0.16 -0.35 -0.11 -0.39 -0.05 -0.45
-0.28 -0.15 -0.34 -0.11 -0.39 nan nan
-0.26 -0.31 -0.11 -0.34 -0.07 -0.41 -0.01
-0.24 -0.11 -0.30 -0.06 -0.34 nan nan
-0.22 -0.10 -0.29 -0.06 -0.34 0.00 -0.40
-0.20 -0.26 -0.06 -0.29 -0.02 nan nan
-0.18 -0.05 -0.24 0.00 -0.28 0.06 -0.34
-0.16 -0.04 -0.23 0.00 -0.28 nan nan
-0.14 -0.21 -0.01 -0.24 0.03 -0.31 0.09
-0.12 0.00 -0.19 0.05 -0.23 nan nan
-0.10 0.01 -0.18 0.05 -0.23 0.11 -0.29
-0.08 -0.15 0.05 -0.18 0.09 nan nan
-0.06 0.06 -0.13 0.11 -0.17 0.17 -0.23
-0.04 0.06 -0.13 0.10 -0.18 nan nan
-0.02 -0.10 0.10 -0.13 0.14 -0.20 0.20
0.00 0.11 -0.08 0.16 -0.12 nan nan
0.02 0.12 -0.07 0.16 -0.12 0.22 -0.18
0.04 -0.04 0.16 -0.07 0.20 nan nan
0.06 0.16 -0.03 0.21 -0.07 0.27 -0.13
0.08 0.17 -0.02 0.21 -0.07 nan nan
0.10 0.01 0.21 -0.02 0.25 -0.09 0.31
0.12 0.22 0.03 0.27 -0.01 nan nan
0.14 0.23 0.04 0.27 -0.01 0.33 -0.07
0.16 0.06 0.26 0.03 0.30 nan nan
0.18 0.27 0.08 0.32 0.04 0.38 -0.02
0.20 0.28 0.09 0.32 0.04 nan nan
0.22 0.12 0.32 0.09 0.36 0.02 0.42
0.24 0.33 0.14 0.38 0.10 nan nan
0.26 0.33 0.14 0.37 0.09 0.43 0.03
0.28 0.17 0.37 0.14 0.41 nan nan
0.30 0.38 0.19 0.43 0.15 0.49 0.09
0.32 0.39 0.20 0.43 0.15 nan nan
0.34 0.23 0.43 0.20 0.47 0.13 0.53
0.36 0.43 0.24 0.48 0.20 nan nan
0.38 0.44 0.25 0.48 0.20 0.54 0.14
0.40 0.28 0.48 0.25 0.52 nan nan
0.42 0.49 0.30 0.54 0.26 0.60 0.20
0.44 0.50 0.31 0.54 0.26 nan nan
0.46 0.33 0.53 0.30 0.57 0.23 0.63
0.48 0.54 0.35 0.59 0.31 nan nan
0.50 0.55 0.36 0.59 0.31 nan nan
}\tabCH

\pgfplotsset{
  panel/.style={
    scale only axis, width=312pt, height=313pt,
    axis line style={black!85, line width=0.7pt},
    tick style={black!85, line width=0.6pt},
    major tick length=4.5pt, tick align=inside,
    ticklabel style={font=\fontsize{16.5}{19}\selectfont, text=black!72},
    xticklabel style={anchor=base, yshift=-21pt},
    yticklabel style={anchor=east, xshift=-1.5pt},
    clip=false,
    legend cell align=left,
    legend style={at={(0.037,0.953)}, anchor=north west, draw=black!55,
      line width=0.6pt, fill=white, inner xsep=3pt, inner ysep=4pt,
      row sep=4pt, font=\fontsize{14.4}{17}\selectfont,
      nodes={inner xsep=3pt, inner ysep=2pt, text height=10pt, text depth=3pt}},
  },
  pts/.style={only marks, mark=o, mark size=4.5pt, line width=0.85pt, black, forget plot},
  yt/.style={black!85, line width=0.6pt, dash pattern=on 0.8pt off 2.4pt, forget plot},
  legmark/.style={legend image code/.code={\path (0pt,0pt) (51pt,0pt);
      \draw[##1] plot coordinates {(25.5pt,0pt)};}},
  legline/.style={legend image code/.code={\draw[##1] (0pt,0pt) -- (51pt,0pt);}},
}

\begin{document}
\begin{tikzpicture}
\useasboundingbox (0,0) rectangle (1226pt,459pt);

% ===== (a) Training =====
\begin{axis}[panel, at={(66pt,103pt)}, anchor=south west,
  xmin=-1, xmax=1.045, ymin=-1, ymax=1.045,
  xtick={-1,-0.5,0,0.5,1}, xticklabels={-1.0,-0.5,0,0.5,1.0},
  ytick={-1,-0.5,0,0.5,1}, yticklabels={-1.0,-0.5,0,0.5,1.0}]
\addlegendimage{legmark, only marks, mark=o, mark size=4.5pt, line width=0.85pt, black}
\addlegendentry{Data}
\addlegendimage{legline, black!85, line width=0.6pt, dash pattern=on 0.8pt off 2.4pt}
\addlegendentry{$Y =\ T$}
\addplot[yt] coordinates {(-1,-1) (1.045,1.045)};
\pgfplotsinvokeforeach{1,...,8}{\addplot[pts] table[x index=0, y index=#1] {\tabA};}
\pgfplotsinvokeforeach{1,...,7}{\addplot[pts] table[x index=0, y index=#1] {\tabAA};}
\pgfplotsinvokeforeach{1,...,7}{\addplot[pts] table[x index=0, y index=#1] {\tabAAA};}
\pgfplotsinvokeforeach{1,...,6}{\addplot[pts] table[x index=0, y index=#1] {\tabAH};}
\addplot[pts] coordinates {(-1.00,-0.72) (-1.00,-0.77) (-0.95,-0.83) (-0.925,-0.67)
 (-0.88,-0.89) (-0.84,-0.575) (-0.87,-0.63) (0.99,1.04) (0.95,1.00) (0.91,0.93)
 (0.95,0.93) (0.87,0.92) (1.00,0.83) (0.99,0.80) (0.94,0.59) (0.88,0.54) (0.77,0.49)
 (0.645,0.87) (0.41,0.70) (0.19,0.64) (0.26,0.66) (0.55,0.27) (-0.06,0.26)
 (0.01,-0.476) (0.02,-0.245) (0.08,-0.20) (0.10,-0.16) (0.20,-0.10)};
\end{axis}

% ===== (b) Validation =====
\begin{axis}[panel, at={(479pt,103pt)}, anchor=south west,
  xmin=-0.937, xmax=1.0, ymin=-0.937, ymax=1.0,
  xtick={-0.937,-0.5,0,0.5,1}, xticklabels={-1.0,-0.5,0,0.5,1.0},
  ytick={-0.8,-0.6,-0.4,-0.2,0,0.2,0.4,0.6,0.8},
  yticklabels={-0.8,-0.6,-0.4,-0.2,0,0.2,0.4,0.6,0.8}]
\addlegendimage{legmark, only marks, mark=o, mark size=4.5pt, line width=0.85pt, black}
\addlegendentry{Data}
\addlegendimage{legline, black!85, line width=0.6pt, dash pattern=on 0.8pt off 2.4pt}
\addlegendentry{$Y =\ T$}
\addplot[yt] coordinates {(-0.937,-0.937) (1,1)};
\pgfplotsinvokeforeach{1,...,7}{\addplot[pts] table[x index=0, y index=#1] {\tabB};}
\pgfplotsinvokeforeach{1,...,5}{\addplot[pts] table[x index=0, y index=#1] {\tabBB};}
\pgfplotsinvokeforeach{1,...,5}{\addplot[pts] table[x index=0, y index=#1] {\tabBBB};}
\pgfplotsinvokeforeach{1,...,6}{\addplot[pts] table[x index=0, y index=#1] {\tabBH};}
\addplot[pts] coordinates {(0.34,0.88) (0.68,0.90) (0.85,0.87) (0.99,0.85) (0.78,0.85)
 (0.94,0.79) (0.72,0.78) (0.58,0.76) (0.62,0.74) (0.86,0.75) (0.89,0.75) (0.88,0.74)
 (0.95,0.65) (0.84,0.61) (0.86,0.60) (0.84,0.54) (0.80,0.68) (0.68,0.65) (0.69,0.63)
 (0.70,0.64) (0.64,0.68) (0.58,0.61) (0.62,0.55) (0.70,0.56) (0.56,0.49) (0.62,0.46)
 (0.70,0.44) (0.66,0.35) (0.55,0.18) (0.31,0.75) (0.26,0.68) (0.27,0.67) (0.37,0.61)
 (0.30,0.60) (0.46,0.65) (0.21,0.53) (0.40,0.56) (0.46,0.54) (0.14,0.41) (0.07,0.34)
 (0.37,0.17) (0.11,-0.05) (0.04,-0.41)
 (0.44,0.47) (0.46,0.44) (0.48,0.48) (0.50,0.45) (0.52,0.52) (0.54,0.48) (0.56,0.50)
 (0.58,0.53) (0.60,0.50) (0.62,0.55) (0.64,0.52) (0.66,0.58) (0.43,0.40) (0.47,0.37)
 (0.42,0.51) (0.49,0.41) (0.74,0.72) (0.76,0.70) (0.71,0.76) (0.60,0.64) (0.52,0.44)
 (0.45,0.58) (0.41,0.62) (0.38,0.66) (0.33,0.72) (0.36,0.55) (0.24,0.60) (0.18,0.50)
 (0.28,0.13) (0.25,0.19) (0.33,0.21) (0.15,0.06) (0.20,0.10)
 (-0.93,-0.67) (-0.85,-0.54) (-0.80,-0.66) (-0.80,-0.68) (-0.78,-0.54) (-0.72,-0.72)
 (-0.69,-0.46) (-0.65,-0.51) (-0.71,-0.56) (-0.67,-0.59) (-0.63,-0.64) (-0.64,-0.68)
 (-0.58,-0.61) (-0.56,-0.70) (-0.50,-0.73) (-0.49,-0.67) (-0.47,-0.60) (-0.41,-0.67)
 (-0.34,-0.68) (-0.29,-0.66) (-0.31,-0.61) (-0.32,-0.57) (-0.23,-0.49) (-0.23,-0.44)
 (-0.14,-0.44) (-0.10,-0.42) (-0.20,-0.36) (-0.59,-0.34) (-0.54,-0.29) (-0.47,-0.25)
 (-0.39,-0.21) (-0.34,-0.16) (-0.29,-0.15) (-0.21,-0.05) (-0.06,0.07) (-0.48,-0.40)
 (-0.50,-0.43) (-0.52,-0.39) (-0.54,-0.45) (-0.49,-0.47) (-0.51,-0.36) (-0.56,-0.41)
 (-0.60,-0.48) (-0.62,-0.44) (-0.66,-0.55) (-0.70,-0.50) (-0.58,-0.52) (-0.53,-0.55)
 (-0.45,-0.52) (-0.43,-0.57) (-0.38,-0.50) (-0.36,-0.54) (-0.27,-0.48) (-0.18,-0.40)
 (-0.25,-0.52) (-0.40,-0.63) (-0.46,-0.66) (-0.61,-0.62) (-0.74,-0.60)};
\end{axis}

% ===== (c) Testing =====
\begin{axis}[panel, at={(895pt,102pt)}, anchor=south west, width=313pt,
  xmin=-0.875, xmax=1.0, ymin=-0.875, ymax=1.0,
  xtick={-0.875,-0.5,0,0.5,1}, xticklabels={-1.0,-0.5,0,0.5,1.0},
  ytick={-0.8,-0.6,-0.4,-0.2,0,0.2,0.4,0.6,0.8},
  yticklabels={-0.8,-0.6,-0.4,-0.2,0,0.2,0.4,0.6,0.8}]
\addlegendimage{legmark, only marks, mark=o, mark size=4.5pt, line width=0.85pt, black}
\addlegendentry{Data}
\addlegendimage{legline, black!85, line width=0.6pt, dash pattern=on 0.8pt off 2.4pt}
\addlegendentry{$Y =\ T$}
\addplot[yt] coordinates {(-0.875,-0.875) (1,1)};
\pgfplotsinvokeforeach{1,...,7}{\addplot[pts] table[x index=0, y index=#1] {\tabC};}
\pgfplotsinvokeforeach{1,...,5}{\addplot[pts] table[x index=0, y index=#1] {\tabCC};}
\pgfplotsinvokeforeach{1,...,5}{\addplot[pts] table[x index=0, y index=#1] {\tabCCC};}
\pgfplotsinvokeforeach{1,...,6}{\addplot[pts] table[x index=0, y index=#1] {\tabCH};}
\addplot[pts] coordinates {(1.00,0.80) (0.98,0.78) (0.93,0.77) (0.87,0.83) (0.85,0.86)
 (0.77,0.87) (0.73,0.82) (0.82,0.78) (0.88,0.75) (0.75,0.76) (0.91,0.80) (0.93,0.70)
 (0.89,0.59) (0.80,0.68) (0.77,0.60) (0.68,0.50) (0.67,0.74) (0.69,0.73) (0.59,0.68)
 (0.51,0.72) (0.48,0.83) (0.46,0.78) (0.53,0.81) (0.45,0.66) (0.35,0.66) (0.31,0.58)
 (0.20,0.64) (0.40,0.61) (0.06,0.39) (0.25,0.49) (0.23,0.46) (0.45,0.19) (0.36,0.18)
 (0.29,0.08) (0.25,-0.01) (0.10,-0.11) (-0.01,-0.11) (-0.03,-0.17) (-0.02,-0.21)
 (-0.09,-0.31) (-0.10,-0.36) (-0.03,-0.41) (-0.19,-0.41) (-0.18,-0.64) (-0.29,-0.64)
 (-0.31,-0.67) (-0.47,-0.63) (-0.55,-0.70) (-0.65,-0.68) (-0.66,-0.70) (-0.68,-0.73)
 (-0.87,-0.61) (-0.85,-0.62) (-0.79,-0.63) (-0.76,-0.55) (-0.72,-0.41) (-0.70,-0.52)
 (-0.68,-0.54) (-0.66,-0.59) (-0.62,-0.49) (-0.60,-0.51) (-0.59,-0.61) (-0.54,-0.56)
 (-0.57,-0.37) (-0.58,-0.40) (-0.51,-0.39) (-0.49,-0.51) (-0.47,-0.47) (-0.44,-0.52)
 (-0.45,-0.26) (-0.37,-0.17) (-0.22,-0.01) (-0.19,-0.02) (-0.27,-0.13)
 (0.48,0.44) (0.48,0.52) (0.50,0.47) (0.50,0.38) (0.52,0.50) (0.52,0.43) (0.54,0.46)
 (0.54,0.56) (0.56,0.49) (0.56,0.40) (0.58,0.53) (0.58,0.45) (0.60,0.50) (0.60,0.58)
 (0.62,0.54) (0.62,0.47) (0.64,0.57) (0.64,0.50) (0.66,0.59) (0.66,0.53) (0.68,0.56)
 (0.68,0.62) (0.70,0.58) (0.70,0.64) (0.72,0.60) (0.74,0.63) (0.73,0.57) (0.76,0.65)
 (0.78,0.62) (0.80,0.66) (0.49,0.58) (0.53,0.61) (0.57,0.36) (0.61,0.42) (0.63,0.61)
 (0.67,0.47) (0.51,0.35) (0.55,0.51) (0.88,0.73) (0.90,0.76) (0.93,0.71) (0.84,0.69)
 (0.96,0.79) (0.98,0.77) (0.82,0.78) (0.86,0.81) (0.80,0.76) (0.78,0.74) (0.75,0.69)
 (0.72,0.72) (0.69,0.71)
 (-0.46,-0.41) (-0.48,-0.44) (-0.50,-0.42) (-0.52,-0.47) (-0.54,-0.44) (-0.56,-0.50)
 (-0.58,-0.46) (-0.47,-0.36) (-0.49,-0.38) (-0.53,-0.52) (-0.57,-0.54) (-0.60,-0.56)
 (-0.63,-0.53) (-0.66,-0.50) (-0.69,-0.48) (-0.72,-0.53) (-0.75,-0.57) (-0.64,-0.44)
 (-0.61,-0.38) (-0.55,-0.35) (-0.43,-0.30) (-0.41,-0.45) (-0.38,-0.42) (-0.35,-0.40)
 (-0.33,-0.20) (-0.30,-0.35) (-0.25,-0.32) (-0.21,-0.29) (-0.15,-0.26) (-0.12,-0.22)
 (-0.08,-0.20) (-0.04,-0.25) (-0.16,0.02) (-0.11,0.06) (0.02,0.18) (0.05,0.22)
 (0.12,0.27) (0.16,0.33) (0.27,0.42) (0.30,0.45) (0.33,0.48) (0.38,0.52) (0.13,-0.02)
 (0.19,0.03) (0.22,0.08) (0.34,0.12) (0.41,0.22) (0.44,0.27)};
\end{axis}

% ===== titles, axis labels, sub-captions =====
\begin{scope}[every node/.style={text=black!90}]
\node[anchor=base, font=\fontsize{25}{29}\selectfont] at (219.5pt,431pt) {Training $R$=0.965};
\node[anchor=base, font=\fontsize{25}{29}\selectfont] at (634pt,430pt) {Validation $R$=0.952};
\node[anchor=base, font=\fontsize{25}{29}\selectfont] at (1050pt,430pt) {Testing $R$=0.962};
\node[anchor=base, font=\fontsize{24}{28}\selectfont] at (209.5pt,49pt) {Target};
\node[anchor=base, font=\fontsize{24}{28}\selectfont] at (630pt,48pt) {Target};
\node[anchor=base, font=\fontsize{24}{28}\selectfont] at (1052pt,49pt) {Target};
\node[anchor=base, rotate=90, font=\fontsize{24.5}{28}\selectfont] at (25pt,264pt) {Output};
\node[anchor=base, rotate=90, font=\fontsize{24.5}{28}\selectfont] at (433pt,258pt) {Output};
\node[anchor=base, rotate=90, font=\fontsize{24.5}{28}\selectfont] at (847.5pt,254pt) {Output};
\node[anchor=base, font=\fontsize{22}{26}\selectfont] at (211pt,5.5pt) {(a)};
\node[anchor=base, font=\fontsize{22}{26}\selectfont] at (628pt,5.5pt) {(b)};
\node[anchor=base, font=\fontsize{22}{26}\selectfont] at (1065pt,5.5pt) {(c)};
\end{scope}
\end{tikzpicture}
\end{document}
